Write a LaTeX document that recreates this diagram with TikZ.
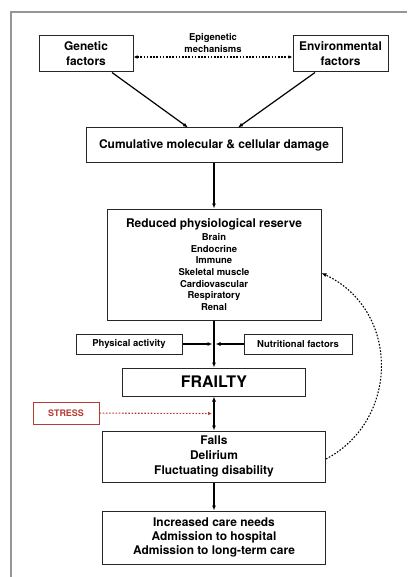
\documentclass[tikz,border=0pt]{standalone}
\usepackage{fontspec}
\setmainfont{TeX Gyre Heros}
\usetikzlibrary{arrows.meta,calc}
\definecolor{stressred}{RGB}{180,60,50}
\definecolor{framegray}{RGB}{150,150,150}
\begin{document}
\begin{tikzpicture}[x=1bp, y=1bp, auto,
    box/.style={draw=black!85, line width=1bp, align=center, inner sep=2bp},
    mainfont/.style={font=\fontsize{12}{15}\selectfont\bfseries},
    smallfont/.style={font=\fontsize{9.5}{11.7}\selectfont\bfseries},
    link/.style={line width=1.2bp, -{Latex[length=5bp,width=4bp]}},
    dotlink/.style={line width=1.1bp, dash pattern=on 1.6bp off 1.6bp}]
        \useasboundingbox (0,0) rectangle (407,-577);
        % Frame
        \draw[framegray, line width=1.5bp] (11,-577) -- (11,-12) -- (407,-12);

        % Nodes
        \node (gen) [box, mainfont, minimum width=94bp, minimum height=36bp] at (86,-54) {Genetic\\factors};
        \node (env) [box, mainfont, minimum width=95bp, minimum height=36bp, right of=gen, node distance=254.5bp] {Environmental\\factors};
        \node (cum) [box, mainfont, minimum width=256bp, minimum height=34bp] at (214,-145) {Cumulative molecular \& cellular damage};
        \node (res) [box, smallfont, minimum width=214bp, minimum height=111bp, below of=cum, node distance=119.5bp]
            {{\fontsize{12}{14}\selectfont Reduced physiological reserve}\\[1.5bp] Brain\\ Endocrine\\ Immune\\ Skeletal muscle\\ Cardiovascular\\ Respiratory\\ Renal};
        \node (phys) [box, smallfont, minimum width=106bp, minimum height=20bp] at (129,-344) {Physical activity};
        \node (nutr) [box, smallfont, minimum width=108bp, minimum height=20bp, right of=phys, node distance=169bp] {Nutritional factors};
        \node (frail) [box, font=\fontsize{16}{18}\selectfont\bfseries, minimum width=183bp, minimum height=28bp, below of=res, node distance=117.5bp] {FRAILTY};
        \node (stress) [box, draw=stressred, text=stressred, font=\fontsize{9}{11}\selectfont\bfseries, minimum width=66bp, minimum height=22bp] at (66,-413) {STRESS};
        \node (falls) [box, mainfont, minimum width=223bp, minimum height=51bp, below of=frail, node distance=74.5bp] {Falls\\ Delirium\\ Fluctuating disability};
        \node (care) [box, font=\fontsize{12}{14}\selectfont\bfseries, minimum width=223bp, minimum height=53bp, below of=falls, node distance=81bp] {Increased care needs\\ Admission to hospital\\ Admission to long-term care};
        \coordinate (join) at (res.south |- phys.east);
        \coordinate (hit) at ($(frail.south)!0.5!(falls.north)$);

        % Edges
        \draw[dotlink, {Latex[length=4bp,width=3.5bp]}-{Latex[length=4bp,width=3.5bp]}] ([yshift=-3bp]gen.east) -- node[above=1bp, align=center, font=\fontsize{9.5}{11.5}\selectfont\bfseries] {Epigenetic\\mechanisms} ([yshift=-3bp]env.west);
        \draw[link] ([xshift=26bp]gen.south) -- ([xshift=-26bp]cum.north);
        \draw[link] ([xshift=-25.5bp]env.south) -- ([xshift=24bp]cum.north);
        \draw[link] (cum) -- (res);
        \draw[link] (res) -- (frail);
        \draw[link] (phys) -- ([xshift=-1.5bp]join);
        \draw[link] (nutr) -- ([xshift=1.5bp]join);
        \draw[line width=1.2bp, {Latex[length=5bp,width=4bp]}-{Latex[length=5bp,width=4bp]}] (frail) -- (falls);
        \draw[dotlink, stressred, -{Latex[length=4bp,width=3.5bp]}] (stress) -- ([xshift=-2bp]hit);
        \draw[link] (falls) -- (care);
        \draw[dotlink, -{Latex[length=5bp,width=4bp]}] ([yshift=-2.5bp]falls.east) .. controls (400,-420) and (400,-310) .. ([yshift=-8.5bp]res.east);
    \end{tikzpicture}
\end{document}
